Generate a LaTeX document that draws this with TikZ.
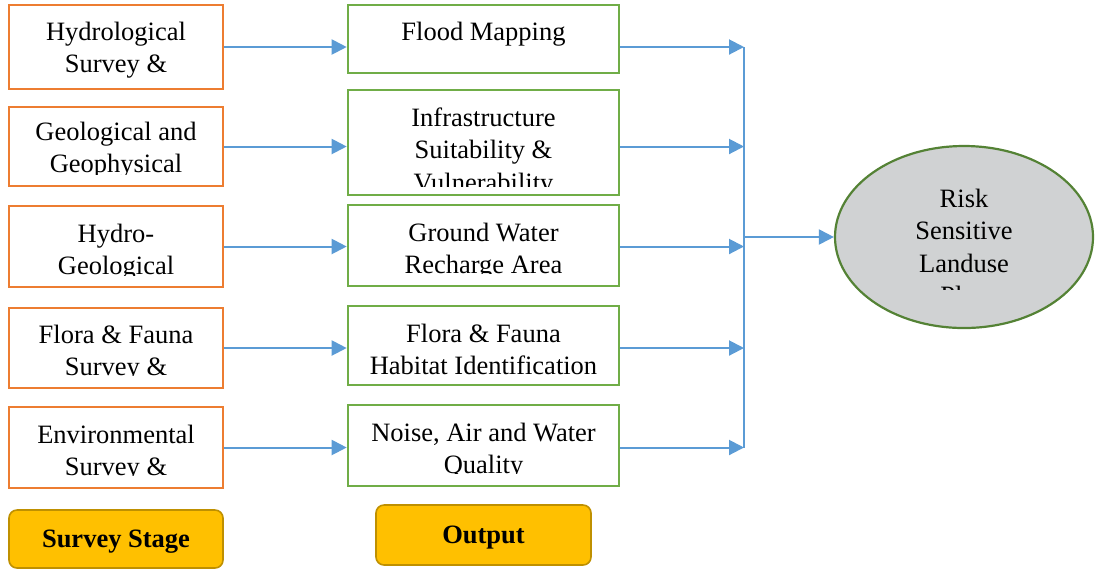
\documentclass[tikz,border=0pt]{standalone}
\usepackage{fontspec}
\setmainfont{Liberation Serif}
\usetikzlibrary{arrows.meta,shapes.geometric}

\definecolor{surveyorange}{HTML}{ED7D31}
\definecolor{outgreen}{HTML}{70AD47}
\definecolor{flowblue}{HTML}{5B9BD5}
\definecolor{tagfill}{HTML}{FFC000}
\definecolor{tagline}{HTML}{BF9000}
\definecolor{plangray}{HTML}{D0D2D3}
\definecolor{plangreen}{HTML}{548235}

\tikzset{
  survey/.style={draw=surveyorange, line width=1.3pt, fill=white, inner sep=0pt,
    minimum width=107pt},
  result/.style={draw=outgreen, line width=1.3pt, fill=white, inner sep=0pt,
    minimum width=135.5pt},
  tag/.style={draw=tagline, line width=0.8pt, fill=tagfill, rounded corners=4pt,
    inner sep=0pt, text depth=0pt, font=\fontsize{13.25}{16.25}\selectfont\bfseries},
  % base anchor sits on the last line
  txt/.style={inner sep=0pt, anchor=base, align=center,
    font=\fontsize{13.25}{16.25}\selectfont},
  flow/.style={draw=flowblue, line width=1pt,
    -{Triangle[length=7.5pt,width=7.5pt]}},
  bus/.style={draw=flowblue, line width=1pt},
}

\begin{document}
\begin{tikzpicture}[x=0.5pt,y=-0.5pt]
  \useasboundingbox (0,0) rectangle (1096,570);

  % survey boxes
  \node[survey, minimum height=42pt]   (s1) at (116,47) {};
  \node[survey, minimum height=39.5pt] (s2) at (116,146.5) {};
  \node[survey, minimum height=40.5pt] (s3) at (116,246.5) {};
  \node[survey, minimum height=40pt]   (s4) at (116,348) {};
  \node[survey, minimum height=40.5pt] (s5) at (116,447.5) {};
  \node[tag, minimum width=107pt, minimum height=29pt] (stage) at (116,539) {Survey Stage};

  % output boxes
  \node[result, minimum height=34pt]   (o1) at (483.5,39) {};
  \node[result, minimum height=52.5pt] (o2) at (483.5,142.5) {};
  \node[result, minimum height=40.5pt] (o3) at (483.5,245.5) {};
  \node[result, minimum height=39.5pt] (o4) at (483.5,345.5) {};
  \node[result, minimum height=40.5pt] (o5) at (483.5,445.5) {};
  \node[tag, minimum width=107.5pt, minimum height=30pt] (output) at (483.5,535) {Output};

  \node[ellipse, draw=plangreen, line width=1.1pt, fill=plangray, inner sep=0pt,
    minimum width=129pt, minimum height=91pt] (plan) at (964,237) {};

  % box texts, cut off at the lower edge of each text frame
  \node[txt] (t1) at (116,72.5) {Hydrological\\Survey \&};
  \begin{scope}
    \clip (s2.north west) rectangle (s2.east |- 0,174);
    \node[txt] (t2) at (116,172.5) {Geological and\\Geophysical};
  \end{scope}
  \begin{scope}
    \clip (s3.north west) rectangle (s3.east |- 0,275);
    \node[txt] (t3) at (116,274.5) {Hydro-\\Geological};
  \end{scope}
  \begin{scope}
    \clip (s4.north west) rectangle (s4.east |- 0,375);
    \node[txt] (t4) at (116,375.5) {Flora \& Fauna\\Survey \&};
  \end{scope}
  \begin{scope}
    \clip (s5.north west) rectangle (s5.east |- 0,475);
    \node[txt] (t5) at (116,475.5) {Environmental\\Survey \&};
  \end{scope}

  \node[txt] (u1) at (483.5,40) {Flood Mapping};
  \begin{scope}
    \clip (o2.north west) rectangle (o2.east |- 0,186);
    \node[txt] (u2) at (483.5,191) {Infrastructure\\Suitability \&\\Vulnerability};
  \end{scope}
  \begin{scope}
    \clip (o3.north west) rectangle (o3.east |- 0,273);
    \node[txt] (u3) at (483.5,273.5) {Ground Water\\Recharge Area};
  \end{scope}
  \node[txt] (u4) at (483.5,374.5) {Flora \& Fauna\\Habitat Identification};
  \begin{scope}
    \clip (o5.north west) rectangle (o5.east |- 0,473);
    \node[txt] (u5) at (483.5,473.5) {Noise, Air and Water\\Quality};
  \end{scope}

  \begin{scope}
    \clip (plan.north west) rectangle (plan.east |- 0,289);
    \node[txt] (p) at (964,304.5) {Risk\\Sensitive\\Landuse\\Plan};
  \end{scope}

  % connectors
  \coordinate (join) at (744,237);
  \foreach \i in {1,...,5} {
    \draw[flow] (s\i.east) -- (s\i.east -| o\i.west);
    \draw[flow] (o\i.east |- s\i.east) -- (join |- s\i.east);
  }
  \draw[bus] (join |- s1.east) -- (join |- s5.east);
  \draw[flow] (join) -- (plan.west);
\end{tikzpicture}
\end{document}
